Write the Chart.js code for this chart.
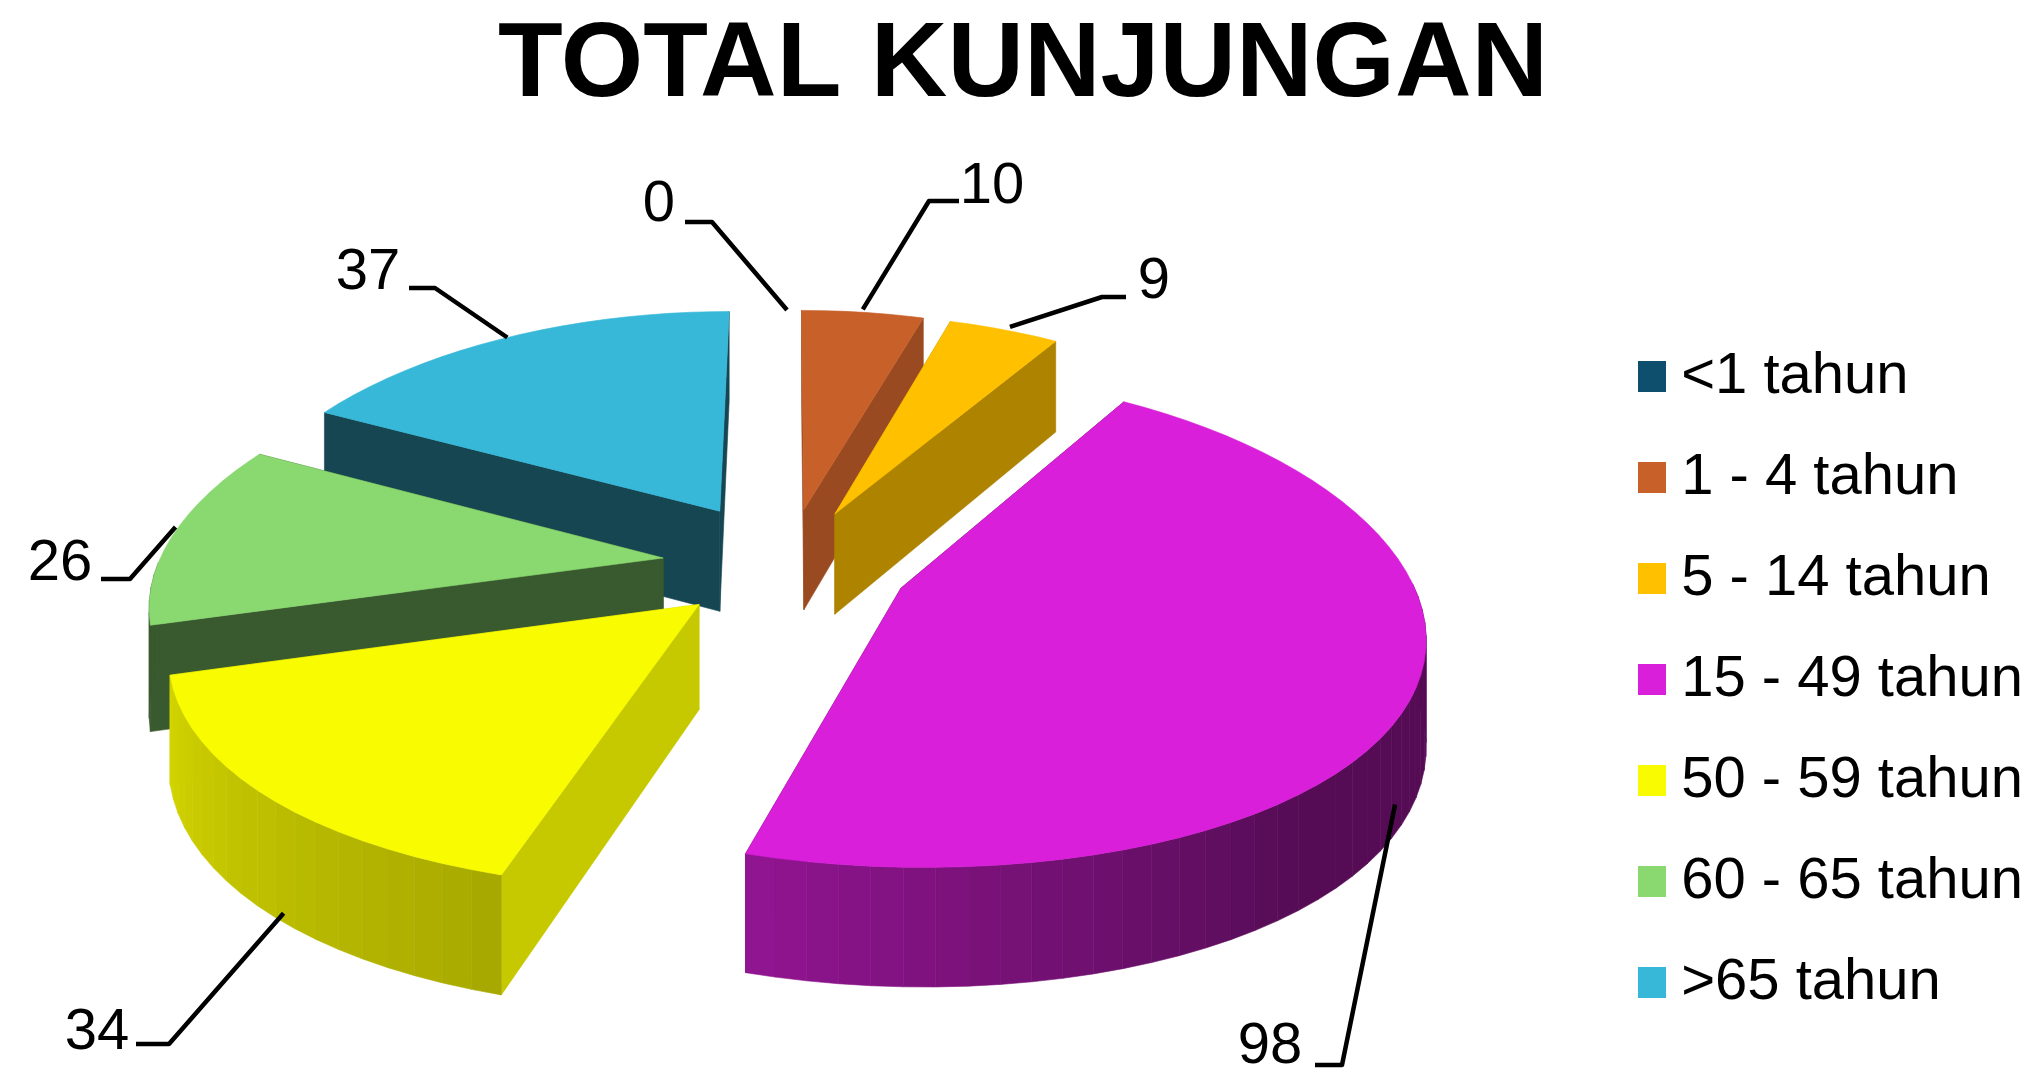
<!DOCTYPE html>
<html>
<head>
<meta charset="utf-8">
<title>Total Kunjungan</title>
<script src="https://cdn.jsdelivr.net/npm/chart.js@4/dist/chart.umd.min.js"></script>
<style>
  html, body { margin: 0; background: #fff; }
  #wrap { position: relative; width: 2037px; height: 1071px; overflow: hidden; }
</style>
</head>
<body>
<div id="wrap"><canvas id="pieChart"></canvas></div>
<script>
const ageGroups = ["<1 tahun", "1 - 4 tahun", "5 - 14 tahun", "15 - 49 tahun", "50 - 59 tahun", "60 - 65 tahun", ">65 tahun"];
const visitCounts = [0, 10, 9, 98, 34, 26, 37];

const legendColors = ["#0f4f6e", "#c8602a", "#ffc000", "#d91fd9", "#f9fb00", "#8ad870", "#37b8d9"];
const cutShade = [0.4, 0.77, 0.68, 0.4, 0.8, 0.41, 0.38];
const explode = [120, 120, 120, 123, 120, 125, 135];

// fake 3D: camera settings for the tilted pie
const pieX = 787, pieY = 564, tilt = 0.47, perspX = 3000, perspY = 4000, wallHeight = 103;

// value label centre, elbow of the leader line, where the line starts next to the text
const labelSpots = [
  { x: 659, y: 205, elbowX: 712, elbowY: 222, startX: 685, fixX: 0, fixY: 0, onWall: false },
  { x: 992, y: 187, elbowX: 929, elbowY: 201, startX: 959, fixX: 0, fixY: -3, onWall: false },
  { x: 1154, y: 282, elbowX: 1102, elbowY: 297, startX: 1126, fixX: 6, fixY: -3, onWall: false },
  { x: 1270, y: 1047, elbowX: 1342, elbowY: 1065, startX: 1315, fixX: -18, fixY: 0, onWall: true },
  { x: 97, y: 1033, elbowX: 169, elbowY: 1044, startX: 136, fixX: 18, fixY: 2, onWall: true },
  { x: 60, y: 564, elbowX: 130, elbowY: 579, startX: 101, fixX: 2, fixY: -7, onWall: false },
  { x: 368, y: 273, elbowX: 435, elbowY: 288, startX: 409, fixX: 0, fixY: 0, onWall: false }
];

function shadeColor(hex, f) {
  const n = parseInt(hex.slice(1), 16);
  const r = Math.round(((n >> 16) & 255) * f);
  const g = Math.round(((n >> 8) & 255) * f);
  const b = Math.round((n & 255) * f);
  return `rgb(${r},${g},${b})`;
}

// side wall gets darker towards the lower right, like the Excel lighting
function wallShade(angle) {
  const deg = ((angle + Math.PI / 2) * 180 / Math.PI + 360) % 360;
  if (deg <= 140) return 0.39;
  if (deg <= 197) return 0.39 + (deg - 140) / 57 * 0.28;
  if (deg <= 255) return 0.67 + (deg - 197) / 57 * 0.18;
  return 0.41;
}

function project(el, angle, r) {
  const mid = (el.startAngle + el.endAngle) / 2;
  const off = el.options.offset;
  const wx = Math.cos(mid) * off + Math.cos(angle) * r;
  const wy = Math.sin(mid) * off + Math.sin(angle) * r;
  const sy = perspY / (perspY - wy);
  const y = pieY + tilt * wy * sy;
  return { x: pieX + wx * perspX / (perspX - wy), y: y, bottom: y + wallHeight * sy };
}

function fillPath(ctx, points, color) {
  ctx.beginPath();
  points.forEach((p, i) => i ? ctx.lineTo(p[0], p[1]) : ctx.moveTo(p[0], p[1]));
  ctx.closePath();
  ctx.fillStyle = color;
  ctx.strokeStyle = color;
  ctx.lineWidth = 0.6;
  ctx.fill();
  ctx.stroke();
}

function drawSlice(ctx, el, color, cutFactor) {
  const apex = project(el, 0, 0);
  const step = Math.PI / 60;
  const angles = [];
  for (let a = el.startAngle; a < el.endAngle; a += step) angles.push(a);
  angles.push(el.endAngle);
  const rim = angles.map(a => project(el, a, el.outerRadius));

  // cut faces
  [rim[0], rim[rim.length - 1]].forEach(p => {
    fillPath(ctx, [[apex.x, apex.y], [p.x, p.y], [p.x, p.bottom], [apex.x, apex.bottom]], shadeColor(color, cutFactor));
  });
  // outer wall in strips, only the part facing us
  for (let i = 0; i < rim.length - 1; i++) {
    const midAngle = (angles[i] + angles[i + 1]) / 2;
    if (Math.sin(midAngle) < 0) continue;
    const a = rim[i], b = rim[i + 1];
    fillPath(ctx, [[a.x, a.y], [b.x, b.y], [b.x, b.bottom], [a.x, a.bottom]], shadeColor(color, wallShade(midAngle)));
  }
  // top face
  fillPath(ctx, [[apex.x, apex.y]].concat(rim.map(p => [p.x, p.y])), color);
}

const pie3d = {
  id: "pie3d",
  beforeDatasetDraw(chart, args) {
    const ctx = chart.ctx;
    const arcs = args.meta.data;
    const order = arcs.map((el, i) => i).sort((a, b) =>
      Math.sin((arcs[a].startAngle + arcs[a].endAngle) / 2) - Math.sin((arcs[b].startAngle + arcs[b].endAngle) / 2));

    ctx.save();
    order.forEach(i => {
      if (visitCounts[i] > 0) drawSlice(ctx, arcs[i], legendColors[i], cutShade[i]);
    });

    // leader lines and values
    ctx.strokeStyle = "#000";
    ctx.lineWidth = 4.5;
    ctx.lineJoin = "round";
    ctx.fillStyle = "#000";
    ctx.font = "58px 'Liberation Sans'";
    ctx.textAlign = "center";
    ctx.textBaseline = "middle";
    arcs.forEach((el, i) => {
      const spot = labelSpots[i];
      const end = project(el, (el.startAngle + el.endAngle) / 2, el.outerRadius);
      ctx.beginPath();
      ctx.moveTo(spot.startX, spot.elbowY);
      ctx.lineTo(spot.elbowX, spot.elbowY);
      ctx.lineTo(end.x + spot.fixX, (spot.onWall ? end.bottom : end.y) + spot.fixY);
      ctx.stroke();
      ctx.fillText(String(visitCounts[i]), spot.x, spot.y);
    });
    ctx.restore();
    return false;
  }
};

function swatch(color) {
  const c = document.createElement("canvas");
  c.width = 28;
  c.height = 31;
  const g = c.getContext("2d");
  g.fillStyle = color;
  g.fillRect(0, 0, 28, 31);
  return c;
}

new Chart(document.getElementById("pieChart"), {
  type: "pie",
  data: {
    labels: ageGroups,
    datasets: [{
      data: visitCounts,
      backgroundColor: legendColors,
      offset: explode,
      borderWidth: 0
    }]
  },
  plugins: [pie3d],
  options: {
    responsive: true,
    maintainAspectRatio: false,
    animation: false,
    events: [],
    radius: 505,
    layout: { padding: { left: 13, right: 4, bottom: -288 } },
    plugins: {
      tooltip: { enabled: false },
      title: {
        display: true,
        text: "TOTAL KUNJUNGAN",
        color: "#000",
        font: { family: "'Liberation Sans'", size: 106, weight: "bold", lineHeight: 1.1 },
        padding: { top: 8, bottom: 170 }
      },
      legend: {
        position: "right",
        labels: {
          color: "#000",
          font: { family: "'Liberation Sans'", size: 58, lineHeight: 1 },
          usePointStyle: true,
          boxWidth: 1,
          boxHeight: 31,
          padding: 43,
          generateLabels(chart) {
            const items = Chart.overrides.pie.plugins.legend.labels.generateLabels(chart);
            items.forEach((item, i) => { item.pointStyle = swatch(legendColors[i]); });
            return items;
          }
        }
      }
    }
  }
});
</script>
</body>
</html>
